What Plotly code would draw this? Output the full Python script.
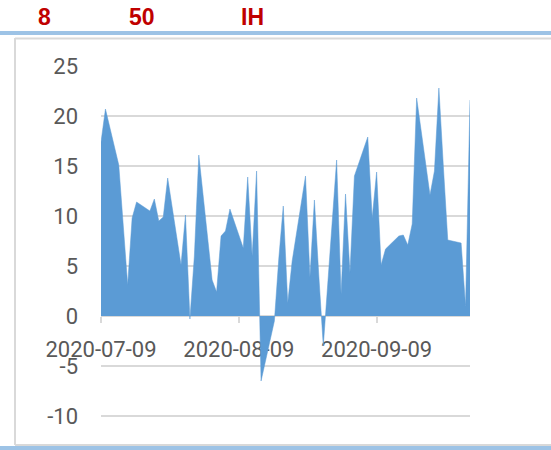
import plotly.graph_objects as go

# ---- data ----
dates = [
    "2020-07-09", "2020-07-10", "2020-07-13", "2020-07-14", "2020-07-15", "2020-07-16", "2020-07-17",
    "2020-07-20", "2020-07-21", "2020-07-22", "2020-07-23", "2020-07-24", "2020-07-27", "2020-07-28",
    "2020-07-29", "2020-07-30", "2020-07-31", "2020-08-03", "2020-08-04", "2020-08-05", "2020-08-06",
    "2020-08-07", "2020-08-10", "2020-08-11", "2020-08-12", "2020-08-13", "2020-08-14", "2020-08-17",
    "2020-08-18", "2020-08-19", "2020-08-20", "2020-08-21", "2020-08-24", "2020-08-25", "2020-08-26",
    "2020-08-27", "2020-08-28", "2020-08-31", "2020-09-01", "2020-09-02", "2020-09-03", "2020-09-04",
    "2020-09-07", "2020-09-08", "2020-09-09", "2020-09-10", "2020-09-11", "2020-09-14", "2020-09-15",
    "2020-09-16", "2020-09-17", "2020-09-18", "2020-09-21", "2020-09-22", "2020-09-23", "2020-09-24",
    "2020-09-25", "2020-09-28", "2020-09-29", "2020-09-30",
]
values = [
    17.4, 20.7, 15.1, 9.5, 3.1, 9.8, 11.4,
    10.5, 11.7, 9.5, 9.9, 13.8, 5.1, 10.1,
    -0.3, 6.0, 16.1, 3.6, 2.4, 8.0, 8.5,
    10.7, 6.8, 13.9, 6.0, 14.5, -6.5, -0.5,
    5.8, 11.0, 1.3, 5.5, 14.0, 3.9, 11.6,
    4.0, -3.0, 15.6, 2.2, 12.2, 4.3, 14.0,
    17.9, 9.8, 14.4, 5.1, 6.7, 8.0, 8.1,
    7.1, 9.2, 21.8, 12.1, 14.5, 22.8, 15.0,
    7.6, 7.3, 1.0, 21.6,
]
x_tick_vals = ["2020-07-09", "2020-08-09", "2020-09-09"]
x_tick_text = ["2020-07-09", "2020-08-09", "2020-09-09"]
y_tick_vals = [-10, -5, 0, 5, 10, 15, 20, 25]
y_tick_text = ["-10", "-5", "0", "5", "10", "15", "20", "25"]
header_texts = ["8", "50", "IH"]

# ---- geometry helpers (pixel -> paper) ----
W, H = 551, 450
L, R, T, B = 101, 81, 66, 29
PW, PH = W - L - R, H - T - B
Y0, Y1 = -10.5, 25


def px(x):
    return (x - L) / PW


def py(y):
    return (H - B - y) / PH


fig = go.Figure()
fig.add_trace(go.Scatter(
    x=dates, y=values, mode="lines", fill="tozeroy",
    line=dict(color="#5B9BD5", width=0.5), fillcolor="#5B9BD5",
    hoverinfo="skip", showlegend=False,
))

shapes = [
    dict(type="line", xref="paper", yref="paper", x0=px(0), x1=px(W), y0=py(33), y1=py(33),
         line=dict(color="#9DC3E6", width=4)),
    dict(type="line", xref="paper", yref="paper", x0=px(0), x1=px(W), y0=py(448), y1=py(448),
         line=dict(color="#9DC3E6", width=4)),
    dict(type="line", xref="paper", yref="paper", x0=px(15), x1=px(W), y0=py(38.5), y1=py(38.5),
         line=dict(color="#D9D9D9", width=2)),
    dict(type="line", xref="paper", yref="paper", x0=px(15), x1=px(15), y0=py(38), y1=py(445),
         line=dict(color="#D9D9D9", width=2)),
    dict(type="line", xref="paper", yref="paper", x0=px(15), x1=px(W), y0=py(445), y1=py(445),
         line=dict(color="#D9D9D9", width=2)),
]

annotations = []
for t, cx in zip(header_texts, [44, 142, 252]):
    annotations.append(dict(
        text=t, xref="paper", yref="paper", x=px(cx), y=py(17), xanchor="center", yanchor="middle",
        showarrow=False, font=dict(family="Liberation Sans", size=23, color="#C00000", weight="bold"),
    ))

fig.update_layout(
    width=W, height=H,
    margin=dict(l=L, r=R, t=T, b=B, pad=0, autoexpand=False),
    paper_bgcolor="white", plot_bgcolor="white",
    shapes=shapes, annotations=annotations,
    xaxis=dict(
        type="date", range=["2020-07-09", "2020-09-30"],
        tickvals=x_tick_vals, ticktext=x_tick_text,
        anchor="free", position=(0 - Y0) / (Y1 - Y0), automargin=False,
        showgrid=False, zeroline=False,
        showline=True, linecolor="#D9D9D9", linewidth=2,
        ticks="outside", ticklen=6, tickwidth=2, tickcolor="#D9D9D9",
        tickfont=dict(family="Roboto", size=22, color="#595959"),
        ticklabelstandoff=8,
        layer="below traces",
    ),
    yaxis=dict(
        range=[Y0, Y1], tickvals=y_tick_vals, ticktext=y_tick_text, automargin=False,
        showgrid=True, gridcolor="#D9D9D9", gridwidth=2,
        zeroline=False, showline=False, ticks="",
        tickfont=dict(family="Roboto", size=22, color="#595959"),
        ticklabelstandoff=22,
    ),
)

fig.write_html("out.html", config={"displayModeBar": False},
               post_script="document.body.style.margin='0';document.body.style.padding='0';")
